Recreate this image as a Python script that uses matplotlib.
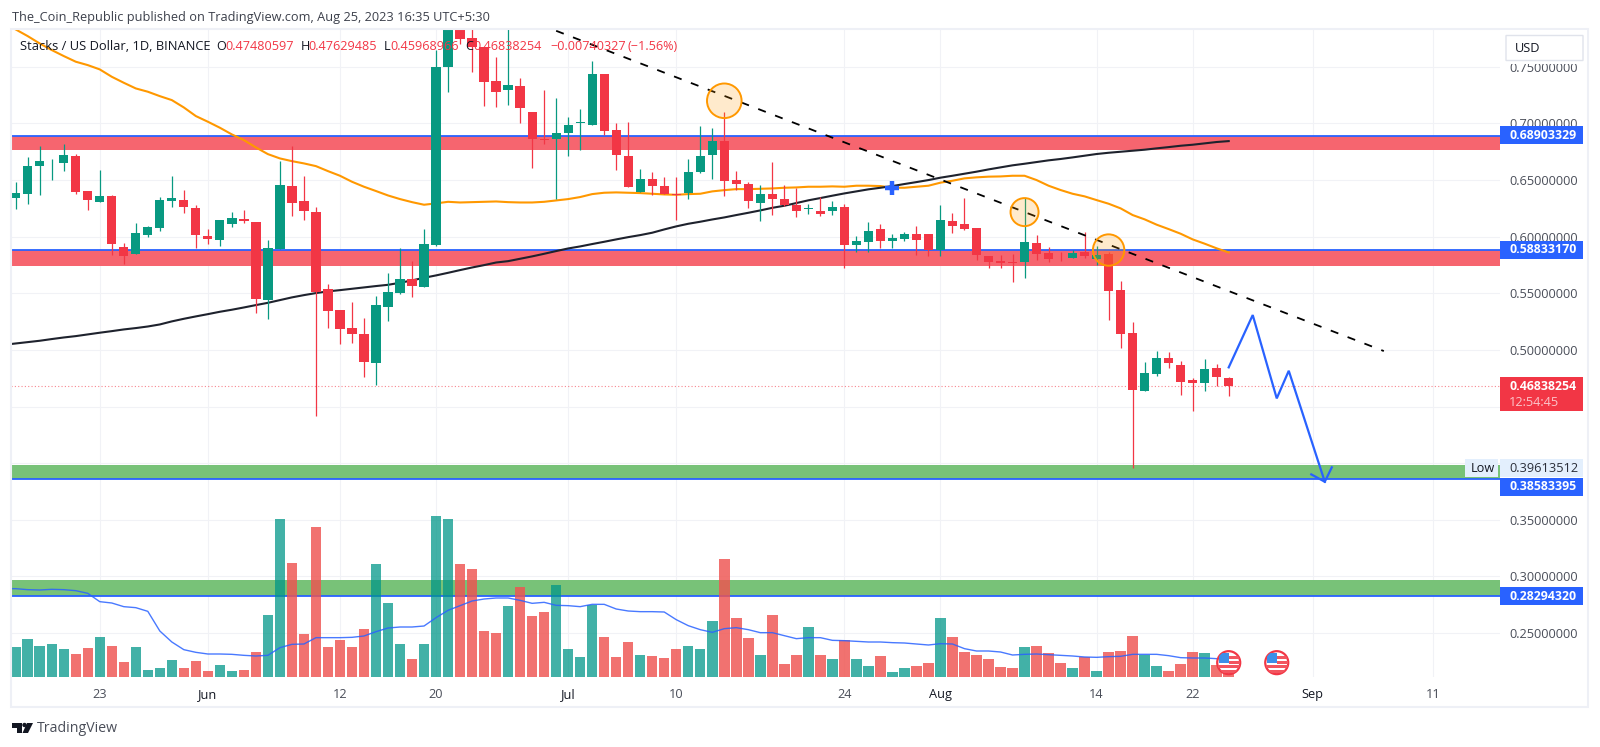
import pandas as pd
import matplotlib
matplotlib.use("Agg")
import matplotlib.pyplot as plt
from matplotlib.patches import Rectangle, FancyBboxPatch, Polygon, Ellipse

W, H = 1600, 747
plt.rcParams["font.family"] = ["Open Sans", "DejaVu Sans"]

start = pd.Timestamp("2023-05-16")

opens = [.6341, .6379, .6623, .6647, .6653, .6714, .6403, .6308, .6355, .5905, .5843, .6014, .6076, .6317, .6326, .6255, .6005,
         .5967, .6114, .6155, .6132, .5440, .5893, .6450, .6311, .6217, .5538, .5352, .5190, .5143, .4887, .5376, .5499, .5623,
         .5558, .5926, .7494, .7840, .7751, .7674, .7371, .7291, .7327, .7097, .6865, .6859, .6918, .7003, .6982, .7439, .6938,
         .6709, .6394, .6511, .6444, .6376, .6385, .6567, .6723, .6841, .6497, .6464, .6294, .6379, .6332, .6276, .6241, .6223,
         .6223, .6265, .5929, .5953, .6064, .5961, .5982, .6023, .6023, .5882, .6138, .6109, .6076, .5829, .5782, .5773, .5773,
         .5944, .5856, .5823, .5811, .5861, .5803, .5847, .5526, .5149, .4640, .4787, .4925, .4870, .4731, .4705, .4837, .47480597]
highs = [.6485, .6700, .6800, .6682, .6815, .6729, .6403, .6585, .6364, .5940, .6117, .6093, .6353, .6538, .6411, .6279, .6064,
         .6147, .6220, .6235, .6132, .5970, .6664, .6803, .6538, .6258, .5582, .5352, .5425, .5284, .5476, .5681, .5896, .5784,
         .6064, .7648, .8050, .7960, .7900, .7674, .7583, .7950, .7397, .7103, .7294, .7221, .7059, .7124, .7550, .7439, .7000,
         .7012, .6594, .6567, .6523, .6529, .6685, .6974, .6959, .7100, .6579, .6479, .6452, .6656, .6452, .6432, .6288, .6353,
         .6315, .6285, .6003, .6126, .6109, .6023, .6041, .6094, .6023, .6276, .6212, .6338, .6076, .5829, .5835, .5847, .6344,
         .6017, .5906, .5867, .5882, .6044, .5917, .5867, .5605, .5246, .4896, .4990, .4984, .4902, .4755, .4917, .4872, .47629485]
lows = [.6241, .6288, .6370, .6500, .6582, .6379, .6235, .6308, .5838, .5755, .5843, .5996, .6052, .6264, .6205, .5899, .5935,
        .5917, .6088, .6123, .5328, .5272, .5887, .6185, .6147, .4416, .5193, .5049, .5063, .4763, .4687, .5258, .5490, .5469,
        .5552, .5917, .7274, .7703, .7456, .7153, .7147, .7162, .7006, .6603, .6815, .6329, .6714, .6762, .6982, .6897, .6588,
        .6435, .6394, .6364, .6373, .6147, .6332, .6564, .6511, .6361, .6411, .6255, .6141, .6191, .6273, .6170, .6200, .6185,
        .6194, .5720, .5867, .5867, .5897, .5903, .5964, .5838, .5829, .5829, .6035, .6059, .5794, .5723, .5723, .5599, .5635,
        .5794, .5779, .5785, .5808, .5814, .5750, .5264, .5017, .3961, .4634, .4769, .4840, .4602, .4463, .4640, .4684, .45968966]
closes = [.6382, .6623, .6667, .6650, .6723, .6397, .6320, .6355, .5932, .5826, .6032, .6085, .6320, .6341, .6264, .6017, .5982,
          .6147, .6161, .6138, .5449, .5896, .6452, .6297, .6226, .5514, .5343, .5182, .5143, .4896, .5394, .5508, .5623, .5564,
          .5935, .7494, .7900, .7745, .7677, .7368, .7277, .7338, .7138, .6859, .6850, .6918, .6985, .7009, .7436, .6935, .6717,
          .6441, .6511, .6444, .6379, .6370, .6567, .6709, .6844, .6491, .6461, .6311, .6379, .6335, .6279, .6226, .6244, .6203,
          .6259, .5929, .5961, .6050, .5961, .5985, .6023, .5973, .5882, .6147, .6091, .6067, .5841, .5779, .5767, .5764, .5953,
          .5850, .5803, .5817, .5859, .5832, .5838, .5523, .5143, .4646, .4793, .4925, .4887, .4719, .4708, .4831, .4764, .46838254]

# moving averages start one day before the first candle, they run off the left edge
sma_short = [.7890, .7830, .7771, .7706, .7648, .7595, .7545, .7515, .7477, .7412, .7359, .7309, .7280, .7241, .7206, .7141, .7065, .7015,
             .6962, .6903, .6853, .6788, .6729, .6691, .6667, .6647, .6623, .6579, .6538, .6485, .6441, .6403, .6364, .6332, .6305,
             .6282, .6294, .6308, .6302, .6305, .6308, .6311, .6305, .6302, .6302, .6308, .6320, .6332, .6350, .6376, .6388, .6391,
             .6388, .6385, .6379, .6373, .6370, .6376, .6379, .6400, .6411, .6420, .6420, .6423, .6426, .6432, .6435, .6441, .6441,
             .6444, .6441, .6450, .6450, .6447, .6432, .6432, .6441, .6450, .6477, .6494, .6515, .6524, .6530, .6532, .6538, .6538,
             .6500, .6450, .6412, .6379, .6356, .6323, .6291, .6250, .6191, .6153, .6106, .6067, .6026, .5976, .5938, .5897, .5861]
sma_long = [.5045, .5057, .5069, .5081, .5096, .5110, .5122, .5137, .5152, .5166, .5181, .5193, .5207, .5225, .5252, .5275, .5296, .5316,
            .5337, .5355, .5375, .5396, .5416, .5440, .5464, .5484, .5502, .5517, .5528, .5540, .5552, .5564, .5575, .5593, .5614,
            .5637, .5658, .5681, .5705, .5728, .5749, .5772, .5784, .5805, .5826, .5849, .5873, .5896, .5914, .5935, .5955, .5976,
            .5996, .6014, .6035, .6064, .6091, .6114, .6132, .6152, .6170, .6191, .6211, .6232, .6255, .6273, .6297, .6321, .6341,
            .6362, .6382, .6400, .6418, .6432, .6447, .6465, .6482, .6500, .6521, .6538, .6556, .6574, .6594, .6612, .6630, .6644,
            .6659, .6674, .6686, .6700, .6715, .6730, .6741, .6750, .6759, .6768, .6780, .6791, .6803, .6812, .6824, .6836, .6844]

volume = [90, 114, 93, 98, 85, 69, 88, 119, 93, 45, 90, 21, 26, 50, 27, 48, 19, 35, 18, 22, 74, 185, 473, 341, 130, 450, 90, 111, 90,
          145, 339, 222, 98, 53, 98, 482, 473, 339, 325, 138, 133, 214, 270, 183, 194, 275, 83, 61, 216, 119, 61, 104, 66, 62, 56,
          83, 93, 83, 169, 355, 178, 117, 66, 185, 40, 66, 149, 66, 53, 111, 53, 32, 62, 16, 26, 32, 43, 177, 119, 74, 66, 53, 29,
          27, 89, 93, 71, 43, 26, 60, 19, 74, 77, 122, 65, 32, 17, 38, 74, 71, 35, 20]
volume_ma = [265, 265, 262, 261, 263, 262, 259, 251, 226, 222, 211, 208, 197, 138, 105, 82, 74, 69, 69, 68, 65, 63, 65, 88, 98, 99, 118,
             118, 118, 119, 123, 136, 147, 150, 150, 153, 178, 200, 214, 228, 234, 237, 237, 230, 221, 224, 215, 214, 211, 218, 218,
             204, 198, 196, 196, 195, 172, 154, 142, 134, 145, 148, 142, 133, 133, 124, 115, 118, 118, 110, 109, 107, 105, 105, 103,
             102, 99, 96, 100, 99, 85, 78, 78, 75, 66, 68, 69, 67, 65, 63, 60, 59, 61, 62, 68, 68, 68, 64, 58, 57, 57, 55, 54]

# zones: (top, bottom, level shown on the price scale)
red_zones = [(.68903329, .6767), (.58833170, .5740)]
green_zones = [(.3984, .38583395), (.2968, .28294320)]
levels = [.68903329, .58833170, .38583395, .28294320]
low_price = .39613512
last_price = .46838254

trend_x = ["2023-06-30", "2023-09-06 22:00"]
trend_y = [.7818, .4990]
path_x = ["2023-08-25", "2023-08-27", "2023-08-29", "2023-08-30", "2023-09-02"]
path_y = [.4846, .5308, .4572, .4816, .3836]
arrow_x = ["2023-08-31 21:00", "2023-09-02", "2023-09-02 14:00"]
arrow_y = [.3901, .3836, .3963]
circle_x = ["2023-07-14", "2023-08-08", "2023-08-15"]
circle_y = [.7200, .6217, .5882]
circle_size = [620, 407, 511]
cross_x = "2023-07-28"
cross_y = .6427
event_x = ["2023-08-25", "2023-08-29"]

price_ticks = [.25, .30, .35, .40, .45, .50, .55, .60, .65, .70, .75]
# .40 and .45 sit behind the Low and last price tags, so they get no text
hidden_ticks = [.40, .45]
time_ticks = ["2023-05-23", "2023-06-01", "2023-06-12", "2023-06-20", "2023-07-01", "2023-07-10",
              "2023-07-24", "2023-08-01", "2023-08-14", "2023-08-22", "2023-09-01", "2023-09-11"]
time_labels = ["23", "Jun", "12", "20", "Jul", "10", "24", "Aug", "14", "22", "Sep", "11"]

GREEN = "#089981"
RED = "#F23645"
BLUE = "#2962FF"
ORANGE = "#FF9800"


def day(d):
    return (pd.Timestamp(d) - start) / pd.Timedelta(days=1)


def px_box(x0, y0, x1, y1, color, **kw):
    fig.add_artist(Rectangle((x0 / W, 1 - y1 / H), (x1 - x0) / W, (y1 - y0) / H, transform=fig.transFigure,
                             facecolor=color, edgecolor="none", **kw))


def px_text(x, y, s, color="#131722", size=9.2, **kw):
    fig.text(x / W, 1 - y / H, s, color=color, fontsize=size, va="center", **kw)


def draw_event(ax2, x):
    # little US flag sitting on the time axis
    ux, uy = 1 / 12.01, 3.0
    cy = 43
    ring = Ellipse((x, cy), 23 * ux, 23 * uy, facecolor="white", edgecolor=RED, lw=1.6, zorder=6)
    ax2.add_patch(ring)
    parts = [(-10, 0, 10, 10, "#3C8FE8"), (0, 4, 11, 2.5, "#F2555F"), (0, -1, 11, 2.5, "#F2555F"),
             (-11, -5, 22, 2.5, "#F2555F"), (-11, -10, 22, 2.5, "#F2555F")]
    for px0, py0, w, h, c in parts:
        r = Rectangle((x + px0 * ux, cy + py0 * uy), w * ux, h * uy, facecolor=c, edgecolor="none", zorder=7)
        ax2.add_patch(r)
        r.set_clip_path(ring)


x = [i for i in range(len(opens))]
x_ma = [-1] + x
up = [c >= o for o, c in zip(opens, closes)]

fig = plt.figure(figsize=(W / 100, H / 100), dpi=100, facecolor="white")
ax = fig.add_axes([11 / W, (H - 677) / H, (1500 - 11) / W, (677 - 30) / H])
ax.set_xlim((11 - 15.7) / 12.01, (1500 - 15.7) / 12.01)
ax.set_ylim(.2112, .7825)
ax2 = ax.twinx()
ax2.set_ylim(0, 1941)
ax2.set_yticks([])
ax.yaxis.tick_right()
for a in (ax, ax2):
    for s in a.spines.values():
        s.set_visible(False)

ax.set_axisbelow(True)
ax.grid(True, color="#F1F2F6", lw=0.8)
ax.set_yticks(price_ticks)
ax.set_yticklabels(["" if p in hidden_ticks else f"{p:.8f}" for p in price_ticks], color="#4A4E59", fontsize=9.2)
ax.set_xticks([day(d) for d in time_ticks])
ax.set_xticklabels(time_labels, fontsize=9.2)
for lab, txt in zip(ax.get_xticklabels(), time_labels):
    lab.set_color("#131722" if txt in ("Jun", "Jul", "Aug", "Sep") else "#4A4E59")
ax.tick_params(axis="both", length=0)
ax.tick_params(axis="y", pad=6.5)
ax.tick_params(axis="x", pad=8)

for top, bottom in red_zones:
    ax.axhspan(bottom, top, color="#F6656F", lw=0, zorder=1)
for top, bottom in green_zones:
    ax.axhspan(bottom, top, color="#78C278", lw=0, zorder=1)
for lv in levels:
    ax.axhline(lv, color=BLUE, lw=1.3, zorder=1.5)

ax.axhline(last_price, color=RED, lw=0.8, ls=(0, (1, 2)), alpha=0.6, zorder=1.6)
ax.plot(x_ma, sma_short, color=ORANGE, lw=1.5, zorder=2)
ax.plot(x_ma, sma_long, color="#1E222D", lw=1.5, zorder=2)

colors = [GREEN if u else RED for u in up]
ax.vlines(x, lows, highs, colors=colors, lw=0.9, zorder=4)
bottoms = [min(o, c) for o, c in zip(opens, closes)]
heights = [max(abs(c - o), .0008) for o, c in zip(opens, closes)]
ax.bar(x, heights, width=0.77, bottom=bottoms, color=colors, zorder=5)

ax.plot([day(d) for d in trend_x], trend_y, color="black", lw=1.3, ls=(0, (4.5, 5.5)), zorder=6)
ax.scatter([day(d) for d in circle_x], circle_y, s=circle_size, facecolor=(1, .6, 0, .2), edgecolor=ORANGE, lw=1.4, zorder=7)
ax.plot([day(d) for d in path_x], path_y, color=BLUE, lw=1.6, zorder=8, solid_joinstyle="miter")
ax.plot([day(d) for d in arrow_x], arrow_y, color=BLUE, lw=1.6, zorder=8, solid_joinstyle="miter")
ax.plot([day(cross_x)], [cross_y], marker="+", ms=9.5, mew=3.2, color=BLUE, zorder=8)

vol_colors = [(0, .588, .533, .74) if u else (.937, .325, .314, .82) for u in up]
ax2.bar(x, volume, width=0.87, color=vol_colors, zorder=3)
ax2.plot(x_ma, volume_ma, color=BLUE, lw=1, alpha=0.85, zorder=4)
for d in event_x:
    draw_event(ax2, day(d))

# chart frame
fig.add_artist(Rectangle((11 / W, 1 - 707 / H), (1588 - 11) / W, (707 - 29) / H, transform=fig.transFigure,
                         facecolor="none", edgecolor="#EEF0F6", lw=1.5))

# price scale tags
px_box(1500, 30, 1587, 64, "white")
fig.add_artist(FancyBboxPatch((1506 / W, 1 - 60.5 / H), 77 / W, 25 / H, boxstyle="round,pad=0", transform=fig.transFigure,
                              facecolor="white", edgecolor="#E0E3EB", lw=1))
px_text(1515, 48, "USD")
level_tags = [(126, 144.3), (241, 259), (477.7, 496), (587, 605.3)]
for lv, (y0, y1) in zip(levels, level_tags):
    px_box(1500, y0, 1583, y1, BLUE)
    px_text(1509, (y0 + y1) / 2, f"{lv:.8f}", color="white", fontweight="bold", size=8.9)
px_box(1500, 376.7, 1583, 411, RED)
px_text(1509, 386, f"{last_price:.8f}", color="white", fontweight="bold", size=8.9)
px_text(1509, 402, "12:54:45", color="#FBC4C9")
px_box(1465, 459, 1498, 476.7, "#E3EFFD")
px_box(1500, 459, 1583, 476.7, "#E3EFFD")
px_text(1471, 468, "Low")
px_text(1509, 468, f"{low_price:.8f}", color="#2A2E39")

# header and legend
px_text(12, 17, "The_Coin_Republic published on TradingView.com, Aug 25, 2023 16:35 UTC+5:30", color="#3C404B", size=9.17)
px_text(20.5, 47, "Stacks / US Dollar, 1D, BINANCE", size=9.25)
legend_parts = [(216, "O", "#131722"), (225, "0.47480597", RED), (300.5, "H", "#131722"), (308.5, "0.47629485", RED),
                (384, "L", "#131722"), (390.5, "0.45968966", RED), (465.5, "C", "#131722"), (473, "0.46838254", RED),
                (550, "\u22120.00740327", RED), (628, "(\u22121.56%)", RED)]
for px0, s, c in legend_parts:
    px_text(px0, 47, s, color=c, size=9.05)

# TradingView mark
logo = [[(12, 723), (22, 723), (22, 733), (17, 733), (17, 727.5), (12, 727.5)],
        [(27, 723), (33, 723), (28, 733), (22.5, 733)]]
for pts in logo:
    fig.add_artist(Polygon([(a / W, 1 - b / H) for a, b in pts], transform=fig.transFigure, facecolor="#131722", edgecolor="none"))
fig.add_artist(Ellipse((24.5 / W, 1 - 725 / H), 4.4 / W, 4.4 / H, transform=fig.transFigure, facecolor="#131722", edgecolor="none"))
px_text(37, 728, "TradingView", color="#4A4E59", size=10.2)

fig.savefig("out.png", dpi=100)
